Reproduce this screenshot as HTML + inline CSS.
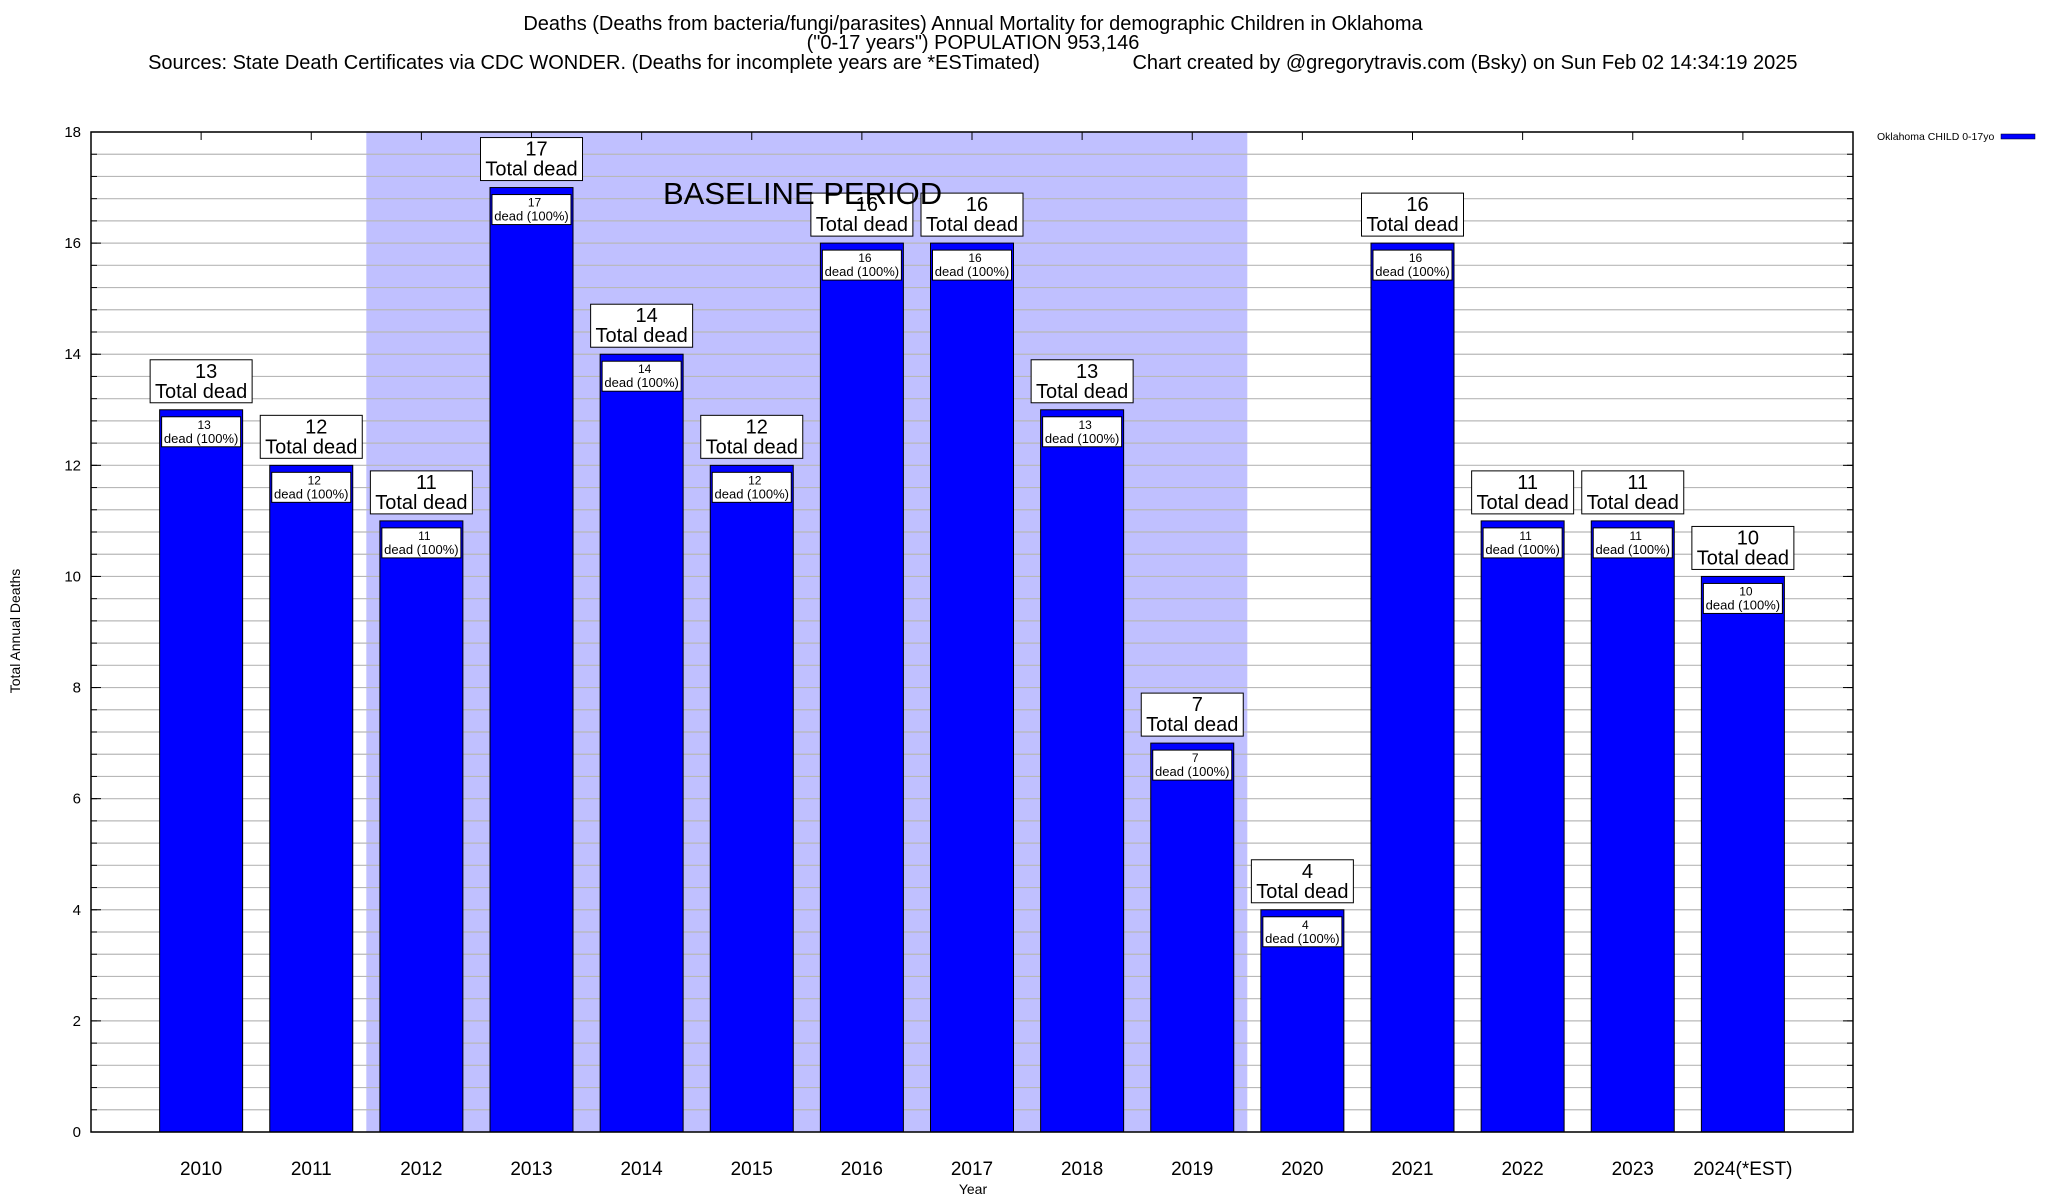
<!DOCTYPE html>
<html><head><meta charset="utf-8">
<style>
html,body{margin:0;padding:0;background:#fff;}
svg{display:block;font-family:"Liberation Sans",sans-serif;}
</style></head>
<body>
<svg id="chart" width="2048" height="1200" viewBox="0 0 2048 1200">
<g font-size="20" text-anchor="middle" fill="#000">
<text x="973" y="30">Deaths (Deaths from bacteria/fungi/parasites) Annual Mortality for demographic Children in Oklahoma</text>
<text x="973" y="49">("0-17 years") POPULATION 953,146</text>
<text x="594" y="69">Sources: State Death Certificates via CDC WONDER. (Deaths for incomplete years are *ESTimated)</text>
<text x="1465" y="69">Chart created by @gregorytravis.com (Bsky) on Sun Feb 02 14:34:19 2025</text>
</g>
<g id="plot"></g>
<text x="973" y="1194" font-size="14" text-anchor="middle">Year</text>
<text x="0" y="0" font-size="14" text-anchor="middle" transform="translate(20,631) rotate(-90)">Total Annual Deaths</text>
<g>
<text x="1877" y="140" font-size="10.5">Oklahoma CHILD 0-17yo</text>
<rect x="2001" y="134" width="34" height="5" fill="#0000ff" stroke="#000" stroke-width="0.5"/>
</g>
</svg>
<script>
const categories=["2010","2011","2012","2013","2014","2015","2016","2017","2018","2019","2020","2021","2022","2023","2024(*EST)"];
const deaths=[13,12,11,17,14,12,16,16,13,7,4,16,11,11,10];
const yTicks=[0,2,4,6,8,10,12,14,16,18];
const baselineStart=1.5, baselineEnd=9.5;

const NS="http://www.w3.org/2000/svg";
const L=91,R=1853,T=132,B=1132,yMax=18;
const slot=(R-L)/(categories.length+1);
const xs=i=>L+(i+1)*slot;
const ys=v=>B-(v/yMax)*(B-T);
const g=document.getElementById('plot');
function mk(tag,attrs,parent){const e=document.createElementNS(NS,tag);for(const k in attrs)e.setAttribute(k,attrs[k]);(parent||g).appendChild(e);return e;}

const sh=mk('rect',{x:xs(baselineStart),y:T,width:xs(baselineEnd)-xs(baselineStart),height:B-T,fill:'#c0c0ff'});



for(let v=0;v<=yMax+0.001;v+=0.4){
  const y=ys(v);
  const ln=mk('line',{x1:L,x2:R,y1:y,y2:y,stroke:'#b8b8b8','stroke-width':1.2});
  
  
  const t1=mk('line',{x1:L,x2:L+6,y1:y,y2:y,stroke:'#000'});
  
  
  const t2=mk('line',{x1:R-6,x2:R,y1:y,y2:y,stroke:'#000'});
  
  
}
yTicks.forEach(v=>{
  const y=ys(v);
  const t=mk('text',{x:L-10,y:y+5,'font-size':15,'text-anchor':'end'});
  t.textContent=v;
  
  
  const a=mk('line',{x1:L,x2:L+10,y1:y,y2:y,stroke:'#000'});
  
  
  const b=mk('line',{x1:R-10,x2:R,y1:y,y2:y,stroke:'#000'});
  
  
});

const bw=83;
categories.forEach((c,i)=>{
  const cx=xs(i), v=deaths[i], yt=ys(v);
  const tk=mk('line',{x1:cx,x2:cx,y1:T,y2:T+8,stroke:'#000'});
  
  
  const bar=mk('rect',{x:cx-bw/2,y:yt,width:bw,height:B-yt,fill:'#0000ff',stroke:'#000','stroke-width':1});
  
  
  const ib=mk('rect',{x:cx-bw/2+2,y:yt+7,width:bw-4,height:30,fill:'#fff',stroke:'#000','stroke-width':1});
  
  
  const it1=mk('text',{x:cx+3,y:yt+19,'font-size':12,'text-anchor':'middle'});
  it1.textContent=v;
  
  
  const it2=mk('text',{x:cx,y:yt+33,'font-size':13,'text-anchor':'middle'});
  it2.textContent='dead (100%)';
  
  
  const ob=mk('rect',{x:cx-51,y:yt-50,width:102,height:43,fill:'#fff',stroke:'#000','stroke-width':1});
  
  
  const ot1=mk('text',{x:cx+5,y:yt-32,'font-size':20,'text-anchor':'middle'});
  ot1.textContent=v;
  
  
  const ot2=mk('text',{x:cx,y:yt-12,'font-size':20,'text-anchor':'middle'});
  ot2.textContent='Total dead';
  
  
  const xl=mk('text',{x:cx,y:1175,'font-size':19,'text-anchor':'middle'});
  xl.textContent=c;
  
  
});

const bl=mk('text',{x:663,y:204,'font-size':31});
bl.textContent='BASELINE PERIOD';



const fr=mk('rect',{x:L,y:T,width:R-L,height:B-T,fill:'none',stroke:'#000','stroke-width':1.5});


</script>
</body></html>
